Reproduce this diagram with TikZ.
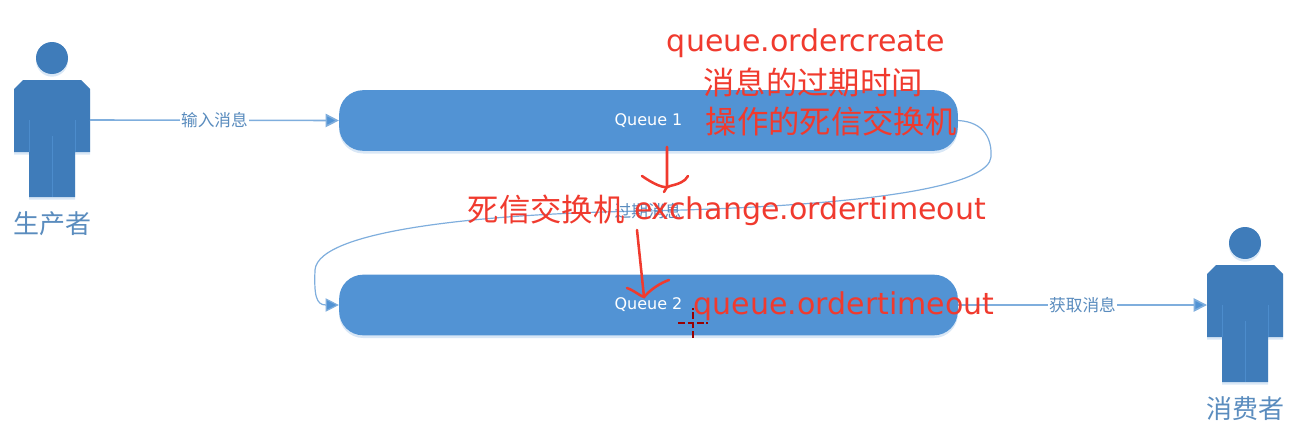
\documentclass[tikz,border=0pt]{standalone}
\usepackage{fontspec}
\setsansfont{DejaVu Sans}
\newfontfamily\cjk{Noto Sans CJK SC}
\usetikzlibrary{arrows.meta,shadows}
\definecolor{queueblue}{HTML}{5293D4}
\definecolor{personblue}{HTML}{3F7CBA}
\definecolor{lineblue}{HTML}{7FAEDD}
\definecolor{labelblue}{HTML}{5A8CBE}
\definecolor{redink}{HTML}{F03A2E}
\begin{document}
\begin{tikzpicture}[x=0.75pt,y=-0.75pt,
softshadow/.style={drop shadow={shadow xshift=0pt,shadow yshift=-2pt,opacity=.22,fill=queueblue}},
queuebox/.style={rectangle,rounded corners=18pt,fill=queueblue,softshadow,minimum width=464pt,
  minimum height=45.5pt,inner sep=0pt,text=white,font=\sffamily\fontsize{12}{14}\selectfont},
flow/.style={-{Triangle[length=10pt,width=10pt,fill=queueblue]},lineblue,line width=1.2pt},
edgelabel/.style={text=labelblue,font=\cjk\fontsize{12.5}{14}\selectfont,inner sep=1pt},
redtext/.style={text=redink,inner sep=0pt,font=\sffamily\fontsize{22.5}{26}\selectfont},
redcjk/.style={text=redink,inner sep=0pt,font=\cjk\fontsize{23.5}{26}\selectfont},
redstroke/.style={draw=redink,line width=1.9pt,line cap=round},
personi/.pic={
  \fill[personblue,softshadow] (0,0) circle [radius=12pt];
  \fill[personblue,softshadow] (-29,22) -- (29,22) -- (38,31) -- (38,94) -- (23,94) -- (23,139)
    -- (-23,139) -- (-23,94) -- (-38,94) -- (-38,31) -- cycle;
  \draw[queueblue!70!personblue,line width=.6pt] (-23,62) -- (-23,94) (23,62) -- (23,94) (0,78) -- (0,139);
  \coordinate (-side) at (-38,62);
  \coordinate (-out) at (38,62);
  \node[text=labelblue,font=\cjk\fontsize{19.5}{22}\selectfont,inner sep=0pt] (-label) at (0,166) {#1};}
]
\useasboundingbox (0,0) rectangle (1304,439);

\path
  (52,58) pic (prod) {personi=生产者}
  (1245,243) pic (cons) {personi=消费者};

\node[queuebox] (queuei) at (648.5,120.5) {Queue 1};
\node[queuebox] (queueii) at (648.5,305) {Queue 2};

\draw[flow] (prod-out) -- (queuei.west) node[midway,fill=white,edgelabel] (inmsg) {输入消息};
\draw[flow] (queueii.east) -- (cons-side) node[midway,fill=white,edgelabel] (getmsg) {获取消息};
\draw[flow,line width=.9pt] (queuei.east) .. controls (985,122) and (992,140) .. (991,157)
  .. controls (989,182) and (900,205) .. (648,211)
  .. controls (500,213) and (318,228) .. (315,270)
  .. controls (314,295) and (316,305) .. (queueii.west);
\node[edgelabel] (expire) at (648,211) {过期消息};

% red notes on top
\node[redtext] (createname) at (806,43) {queue.ordercreate};
\node[redcjk] (ttlnote) at (813,82) {消息的过期时间};
\node[redcjk] (dlxnote) at (831,121) {操作的死信交换机};
\node[redcjk] (dlxname) at (546,209) {死信交换机};
\node[redtext] (exchname) at (810,211) {exchange.ordertimeout};
\node[redtext] (timeoutname) at (844,306) {queue.ordertimeout};

\coordinate (tipi) at (664,192);
\coordinate (tipii) at (644,297);
\draw[redstroke] (667,147) -- (667,187) -- (tipi);
\draw[redstroke] (642,176) .. controls (652,183) and (665,190) .. (670,186) .. controls (678,184) and (685,182) .. (688,176);
\draw[redstroke] (637,230) -- (tipii);
\draw[redstroke] (627,288) .. controls (635,291) and (640,296) .. (tipii) .. controls (650,290) and (660,283) .. (669,280);

\coordinate (cursor) at (693,323);
\draw[draw=red!60!black,line width=1.5pt,dash pattern=on 5pt off 2pt]
  ([yshift=-11pt]cursor) -- ([yshift=11pt]cursor) ([xshift=-11pt]cursor) -- ([xshift=11pt]cursor);
\end{tikzpicture}
\end{document}
